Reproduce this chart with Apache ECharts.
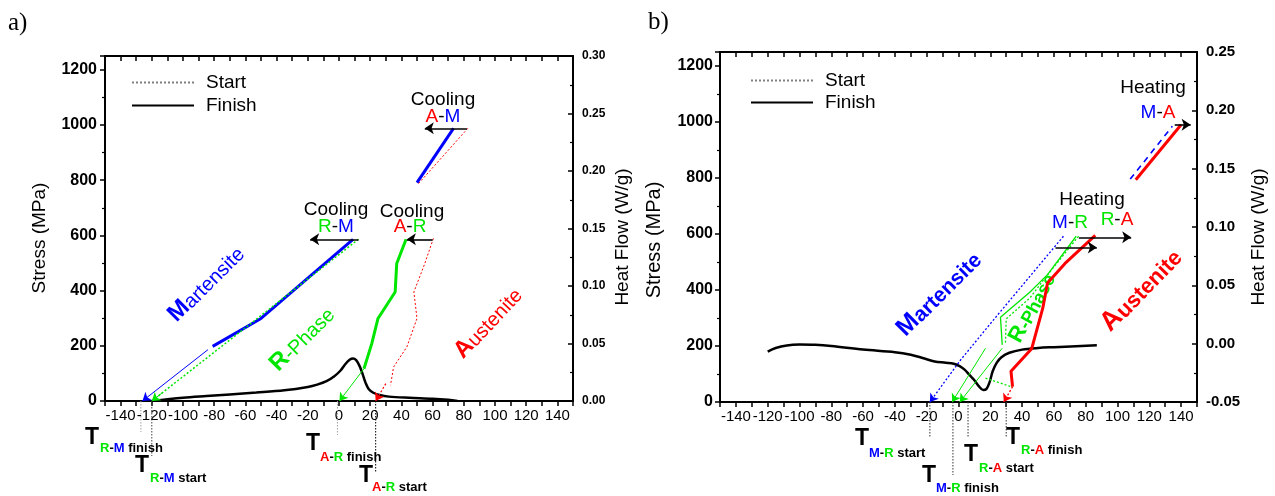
<!DOCTYPE html>
<html>
<head>
<meta charset="utf-8">
<script src="https://cdn.jsdelivr.net/npm/echarts@6/dist/echarts.min.js"></script>
<style>
  html, body { margin: 0; padding: 0; background: #fff; }
  #chart { width: 1275px; height: 496px; }
</style>
</head>
<body>
<div id="chart"></div>
<script>
// ---------- panel a) : cooling ----------
// DSC heat flow (W/g) vs temperature (°C)
const aHeatFlow = [[-120,0],[-100,0.0028],[-85,0.0043],[-70,0.0057],[-53,0.0073],[-35,0.0093],[-20,0.0122],
  [-14,0.0142],[-8,0.0172],[-3,0.0215],[1,0.0265],[4,0.032],[7,0.036],[9,0.037],[11,0.0355],[13,0.031],
  [15,0.024],[17,0.016],[19,0.0105],[22,0.0072],[26,0.0052],[32,0.0038],[45,0.0028],[60,0.002],[70,0.001],[76,0]];
// stress (MPa) vs transformation temperature (°C)
const aRMFinish     = [[-81,198],[-50,299],[-14,474],[9,586]];
const aRMFinishTail = [[-84,186],[-126,0]];
const aRMStart      = [[12.5,586],[-120,0]];
const aARFinish     = [[43,586],[37,498],[36,395],[25,299],[21,208],[16,117]];
const aARFinishTail = [[16,117],[0.3,0]];
const aARStart      = [[60.5,589],[55,498],[48,395],[50,299],[43.5,196],[35,123],[33,57]];
const aARStartTail  = [[30,63],[23.5,0]];
const aAMFinish     = [[50,791],[73.4,988]];
const aAMStart      = [[51,788],[82.6,988]];
const aCoolArrows   = [[[12.5,586],[-18.5,586]], [[60,586],[43.5,586]], [[82,988],[55,988]]];
// T R-M finish, T R-M start, T A-R finish, T A-R start
const aTemps = [-127, -120, -1, 23.5];

// ---------- panel b) : heating ----------
const bHeatFlow = [[-120,-0.0068],[-115,-0.0037],[-108,-0.0015],[-100,-0.0008],[-90,-0.001],[-80,-0.002],
  [-60,-0.0051],[-40,-0.0073],[-30,-0.0095],[-22,-0.0125],[-15,-0.0152],[-8,-0.0163],[-3,-0.0172],[1,-0.0195],
  [4,-0.0225],[7,-0.027],[10,-0.0313],[13,-0.0368],[15.5,-0.0397],[17.5,-0.039],[19.5,-0.0332],[21.5,-0.0236],
  [24,-0.0164],[27,-0.0116],[32,-0.0078],[40,-0.0051],[50,-0.0037],[60,-0.003],[87,-0.0013]];
const bMRStart      = [[66,592],[23,300],[1.3,150],[-18,0]];
const bMRFinish     = [[27.5,204],[26.4,303],[45,393],[56,455],[74,592]];
const bMRFinishTail = [[17,192],[-4,0]];
const bRAStart      = [[75.5,592],[54,440],[45,372],[30,297],[29.5,208]];
const bRAStartTail  = [[27.5,192],[0.8,0]];
const bRALink       = [[17,85],[34,53]];
const bRAFinish     = [[86,595],[67,495],[56,425],[53,335],[46,190],[33,110],[34,55]];
const bRAFinishTail = [[34,55],[28.5,0]];
const bMAStart      = [[108,796],[134.5,985]];
const bMAFinish     = [[111.5,794],[140,990]];
const bHeatArrows   = [[[61,552],[87,552]], [[75.7,588],[108.6,588]], [[136,990],[146,990]]];
// T M-R start, T M-R finish, T R-A start, T R-A finish
const bTemps = [-18, -3.5, 6, 30];

// ---------- axes ----------
const tempMin = -150, tempMax = 150, tempStep = 10, tempLabelStep = 20;
const stressMax = 1250, stressStep = 200, stressLabelMax = 1200;
const aHeatRange = [0, 0.30];
const bHeatRange = [-0.05, 0.25];
const heatStep = 0.05;

const FONT = '"Liberation Sans", Arial, sans-serif';
const SERIF = '"Liberation Serif", "Times New Roman", serif';
const BLUE = '#0000ff', GREEN = '#00e600', RED = '#ff0000', BLACK = '#000000';

const GRID_A = { left: 105, top: 56, width: 468, height: 345 };
const GRID_B = { left: 720, top: 52, width: 477, height: 350 };

const axisLine = { show: true, onZero: false, lineStyle: { color: BLACK, width: 2 } };

function tempAxes(gridIndex) {
  return [
    { type: 'value', gridIndex, position: 'bottom', min: tempMin, max: tempMax, interval: tempStep,
      axisLine, axisTick: { show: true, inside: false, length: 5, lineStyle: { color: BLACK, width: 1.5 } },
      axisLabel: { margin: 7, color: BLACK, fontFamily: FONT, fontSize: 15,
        formatter: v => (Math.round(v) % tempLabelStep === 0 ? String(Math.round(v)) : '') },
      splitLine: { show: false } },
    { type: 'value', gridIndex, position: 'top', min: tempMin, max: tempMax, interval: tempStep,
      axisLine, axisTick: { show: true, inside: true, length: 5, lineStyle: { color: BLACK, width: 1.5 } },
      axisLabel: { show: false }, splitLine: { show: false } }
  ];
}
function stressAxis(gridIndex, margin) {
  return { type: 'value', gridIndex, position: 'left', min: 0, max: stressMax, interval: stressStep,
    axisLine, axisTick: { show: true, inside: false, length: 5, lineStyle: { color: BLACK, width: 1.5 } },
    minorTick: { show: true, splitNumber: 2, length: 3, lineStyle: { color: BLACK, width: 1.2 } },
    axisLabel: { margin, color: BLACK, fontFamily: FONT, fontSize: 16, fontWeight: 'bold',
      formatter: v => (v <= stressLabelMax ? String(v) : '') },
    splitLine: { show: false } };
}
function heatAxis(gridIndex, range, fontSize) {
  return { type: 'value', gridIndex, position: 'right', min: range[0], max: range[1], interval: heatStep,
    axisLine, axisTick: { show: true, inside: true, length: 5, lineStyle: { color: BLACK, width: 1.5 } },
    minorTick: { show: true, splitNumber: 2, length: 3, lineStyle: { color: BLACK, width: 1.2 } },
    axisLabel: { margin: 9, color: BLACK, fontFamily: FONT, fontSize, fontWeight: 'bold',
      formatter: v => (Math.abs(v) < 1e-9 ? '0.00' : v.toFixed(2)) },
    splitLine: { show: false } };
}

// ---------- series helpers ----------
// panel 0 -> axes of a), panel 1 -> axes of b); heat selects the right-hand axis
function ax(panel, heat) {
  return { xAxisIndex: panel * 2, yAxisIndex: panel * 2 + (heat ? 1 : 0) };
}
function curve(name, data, panel, color, width, type, extra) {
  return Object.assign({ name, type: 'line', data, symbol: 'none', silent: true, animation: false,
    lineStyle: { color, width, type: type || 'solid' }, itemStyle: { color } }, ax(panel, false), extra || {});
}
function arrowMark(segments, color, width, size) {
  return { silent: true, animation: false, symbol: ['none', 'arrow'], symbolSize: size || 9,
    label: { show: false }, emphasis: { disabled: true },
    lineStyle: { color, width, type: 'solid' }, itemStyle: { color },
    data: segments.map(s => [{ coord: s[0] }, { coord: s[1] }]) };
}
// short arrowhead on the last segment of a polyline
function endArrow(pts, color) {
  const a = pts[pts.length - 2], b = pts[pts.length - 1];
  const k = 0.05;
  const from = [b[0] + (a[0] - b[0]) * k, b[1] + (a[1] - b[1]) * k];
  return arrowMark([[from, b]], color, 1, 8);
}
function tailed(name, data, panel, color, width, type) {
  return curve(name, data, panel, color, width, type, { markLine: endArrow(data, color) });
}

const DOT = [2, 2];
const series = [
  // legend keys
  curve('Start', [], 0, '#808080', 1.2, DOT),
  curve('Finish', [], 0, BLACK, 1.5, 'solid'),

  // a) heat flow
  Object.assign(curve('aHeat', aHeatFlow, 0, BLACK, 2.5, 'solid', { smooth: 0.35 }), ax(0, true)),
  // a) transformation lines
  curve('aRMFinish', aRMFinish, 0, BLUE, 3),
  tailed('aRMFinishTail', aRMFinishTail, 0, BLUE, 1),
  tailed('aRMStart', aRMStart, 0, GREEN, 1.5, DOT),
  curve('aARFinish', aARFinish, 0, GREEN, 3),
  tailed('aARFinishTail', aARFinishTail, 0, GREEN, 1),
  curve('aARStart', aARStart, 0, RED, 1, DOT),
  tailed('aARStartTail', aARStartTail, 0, RED, 1.2, DOT),
  curve('aAMFinish', aAMFinish, 0, BLUE, 3),
  curve('aAMStart', aAMStart, 0, RED, 1, DOT),
  curve('aArrows', [], 0, BLACK, 1.5, 'solid', { markLine: arrowMark(aCoolArrows, BLACK, 1.6, 9) }),

  // b) heat flow
  Object.assign(curve('bHeat', bHeatFlow, 1, BLACK, 2.5, 'solid', { smooth: 0.35 }), ax(1, true)),
  // b) transformation lines
  tailed('bMRStart', bMRStart, 1, BLUE, 1.3, DOT),
  curve('bMRFinish', bMRFinish, 1, GREEN, 1.3),
  tailed('bMRFinishTail', bMRFinishTail, 1, GREEN, 1),
  curve('bRAStart', bRAStart, 1, GREEN, 1.3, DOT),
  tailed('bRAStartTail', bRAStartTail, 1, GREEN, 1),
  curve('bRALink', bRALink, 1, GREEN, 1.3, DOT),
  curve('bRAFinish', bRAFinish, 1, RED, 3),
  tailed('bRAFinishTail', bRAFinishTail, 1, RED, 1.3, DOT),
  curve('bMAStart', bMAStart, 1, BLUE, 1.6, [6, 5]),
  curve('bMAFinish', bMAFinish, 1, RED, 3),
  curve('bArrows', [], 1, BLACK, 1.5, 'solid', { markLine: arrowMark(bHeatArrows, BLACK, 1.6, 9) })
];

// dotted leaders from the temperature axis down to the T labels
function leaders(temps, depthsPx, colors, panel, grid) {
  const mpaPerPx = stressMax / grid.height;
  return temps.map((t, i) => curve('leader' + panel + i, [[t, 0], [t, -depthsPx[i] * mpaPerPx]], panel,
    colors[i], 1, [1.5, 1.5], { clip: false, z: 1 }));
}
series.push(...leaders(aTemps, [31, 55, 34, 72], ['#a0a0a0', '#444', '#a0a0a0', '#000'], 0, GRID_A));
series.push(...leaders(bTemps, [35, 73, 35, 35], ['#333', '#333', '#333', '#333'], 1, GRID_B));

// ---------- text ----------
const COLORS = { k: BLACK, b: BLUE, g: GREEN, r: RED };
function richSet(size, weight) {
  const out = {};
  for (const key in COLORS) out[key] = { fill: COLORS[key], fontSize: size, fontWeight: weight, fontFamily: FONT };
  return out;
}
function rich(parts) { return parts.map(p => '{' + p[1] + '|' + p[0] + '}').join(''); }
function text(x, y, str, opts) {
  opts = opts || {};
  return { type: 'text', x, y, rotation: opts.rotation || 0, silent: true,
    style: Object.assign({ text: str, fill: opts.fill || BLACK, fontFamily: opts.family || FONT,
      fontSize: opts.size || 19, fontWeight: opts.weight || 'normal',
      align: opts.align || 'center', verticalAlign: 'middle' }, opts.rich ? { rich: opts.rich } : {}) };
}
function pair(x, y, parts, size) {
  return text(x, y, rich(parts), { rich: richSet(size || 19, 'normal') });
}
function phase(x, y, first, rest, color, bigSize, size, weight, deg) {
  const r = {
    F: { fill: color, fontSize: bigSize, fontWeight: 'bold', fontFamily: FONT, verticalAlign: 'bottom', lineHeight: bigSize },
    R: { fill: color, fontSize: size, fontWeight: weight, fontFamily: FONT, verticalAlign: 'bottom', lineHeight: bigSize }
  };
  return text(x, y, '{F|' + first + '}{R|' + rest + '}', { rich: r, rotation: deg * Math.PI / 180 });
}
function tLabel(tx, ty, sx, sy, parts) {
  return [
    text(tx, ty, 'T', { size: 23, weight: 'bold' }),
    text(sx, sy, rich(parts), { align: 'left', rich: richSet(13, 'bold') })
  ];
}

const graphics = [
  text(8, 23, 'a)', { family: SERIF, size: 25, align: 'left' }),
  text(648, 22, 'b)', { family: SERIF, size: 25, align: 'left' }),
  text(40, 238, 'Stress (MPa)', { rotation: Math.PI / 2, size: 19 }),
  text(623, 237, 'Heat Flow (W/g)', { rotation: Math.PI / 2, size: 19 }),
  text(654, 240, 'Stress (MPa)', { rotation: Math.PI / 2, size: 20 }),
  text(1259, 237, 'Heat Flow (W/g)', { rotation: Math.PI / 2, size: 19 }),

  // a) annotations
  text(443, 100, 'Cooling'), pair(443, 117, [['A', 'r'], ['-', 'k'], ['M', 'b']]),
  text(336, 210, 'Cooling'), pair(336, 227, [['R', 'g'], ['-', 'k'], ['M', 'b']]),
  text(412, 212, 'Cooling'), pair(410, 227, [['A', 'r'], ['-', 'k'], ['R', 'g']]),
  phase(206, 284, 'M', 'artensite', BLUE, 24, 20, 'normal', 45),
  phase(302, 339, 'R', '-Phase', GREEN, 24, 20, 'normal', 45),
  phase(488, 323, 'A', 'ustenite', RED, 24, 20, 'normal', 47),
  ...tLabel(92, 438, 100, 448, [['R', 'g'], ['-', 'k'], ['M', 'b'], [' finish', 'k']]),
  ...tLabel(142, 466, 150, 478, [['R', 'g'], ['-', 'k'], ['M', 'b'], [' start', 'k']]),
  ...tLabel(313, 444, 320, 457, [['A', 'r'], ['-', 'k'], ['R', 'g'], [' finish', 'k']]),
  ...tLabel(366, 476, 372, 487, [['A', 'r'], ['-', 'k'], ['R', 'g'], [' start', 'k']]),

  // b) annotations
  text(1153, 88, 'Heating'), pair(1158, 113, [['M', 'b'], ['-', 'k'], ['A', 'r']]),
  text(1092, 200, 'Heating'),
  pair(1070, 223, [['M', 'b'], ['-', 'k'], ['R', 'g']]),
  pair(1117, 220, [['R', 'g'], ['-', 'k'], ['A', 'r']]),
  phase(939, 294, 'M', 'artensite', BLUE, 25, 21, 'bold', 45),
  phase(1032, 308, 'R', '-Phase', GREEN, 22, 18, 'bold', 62),
  phase(1141, 290, 'A', 'ustenite', RED, 27, 22, 'bold', 46),
  ...tLabel(862, 439, 869, 453, [['M', 'b'], ['-', 'k'], ['R', 'g'], [' start', 'k']]),
  ...tLabel(929, 476, 936, 488, [['M', 'b'], ['-', 'k'], ['R', 'g'], [' finish', 'k']]),
  ...tLabel(971, 455, 979, 468, [['R', 'g'], ['-', 'k'], ['A', 'r'], [' start', 'k']]),
  ...tLabel(1013, 438, 1021, 450, [['R', 'g'], ['-', 'k'], ['A', 'r'], [' finish', 'k']])
];

const legendBase = {
  data: ['Start', 'Finish'], orient: 'vertical', itemWidth: 62, itemHeight: 14, padding: 0,
  selectedMode: false, itemStyle: { opacity: 0 },
  textStyle: { fontFamily: FONT, fontSize: 19, color: BLACK, padding: [0, 0, 0, 7] }
};

const option = {
  animation: false,
  backgroundColor: '#ffffff',
  grid: [Object.assign({ containLabel: false }, GRID_A), Object.assign({ containLabel: false }, GRID_B)],
  xAxis: [...tempAxes(0), ...tempAxes(1)],
  yAxis: [stressAxis(0, 8), heatAxis(0, aHeatRange, 12), stressAxis(1, 7), heatAxis(1, bHeatRange, 15)],
  legend: [
    Object.assign({}, legendBase, { left: 131, top: 73, itemGap: 4 }),
    Object.assign({}, legendBase, { left: 750, top: 71, itemGap: 3 })
  ],
  series,
  graphic: { elements: graphics }
};

const chart = echarts.init(document.getElementById('chart'), null, { renderer: 'canvas' });
chart.setOption(option);
</script>
</body>
</html>
